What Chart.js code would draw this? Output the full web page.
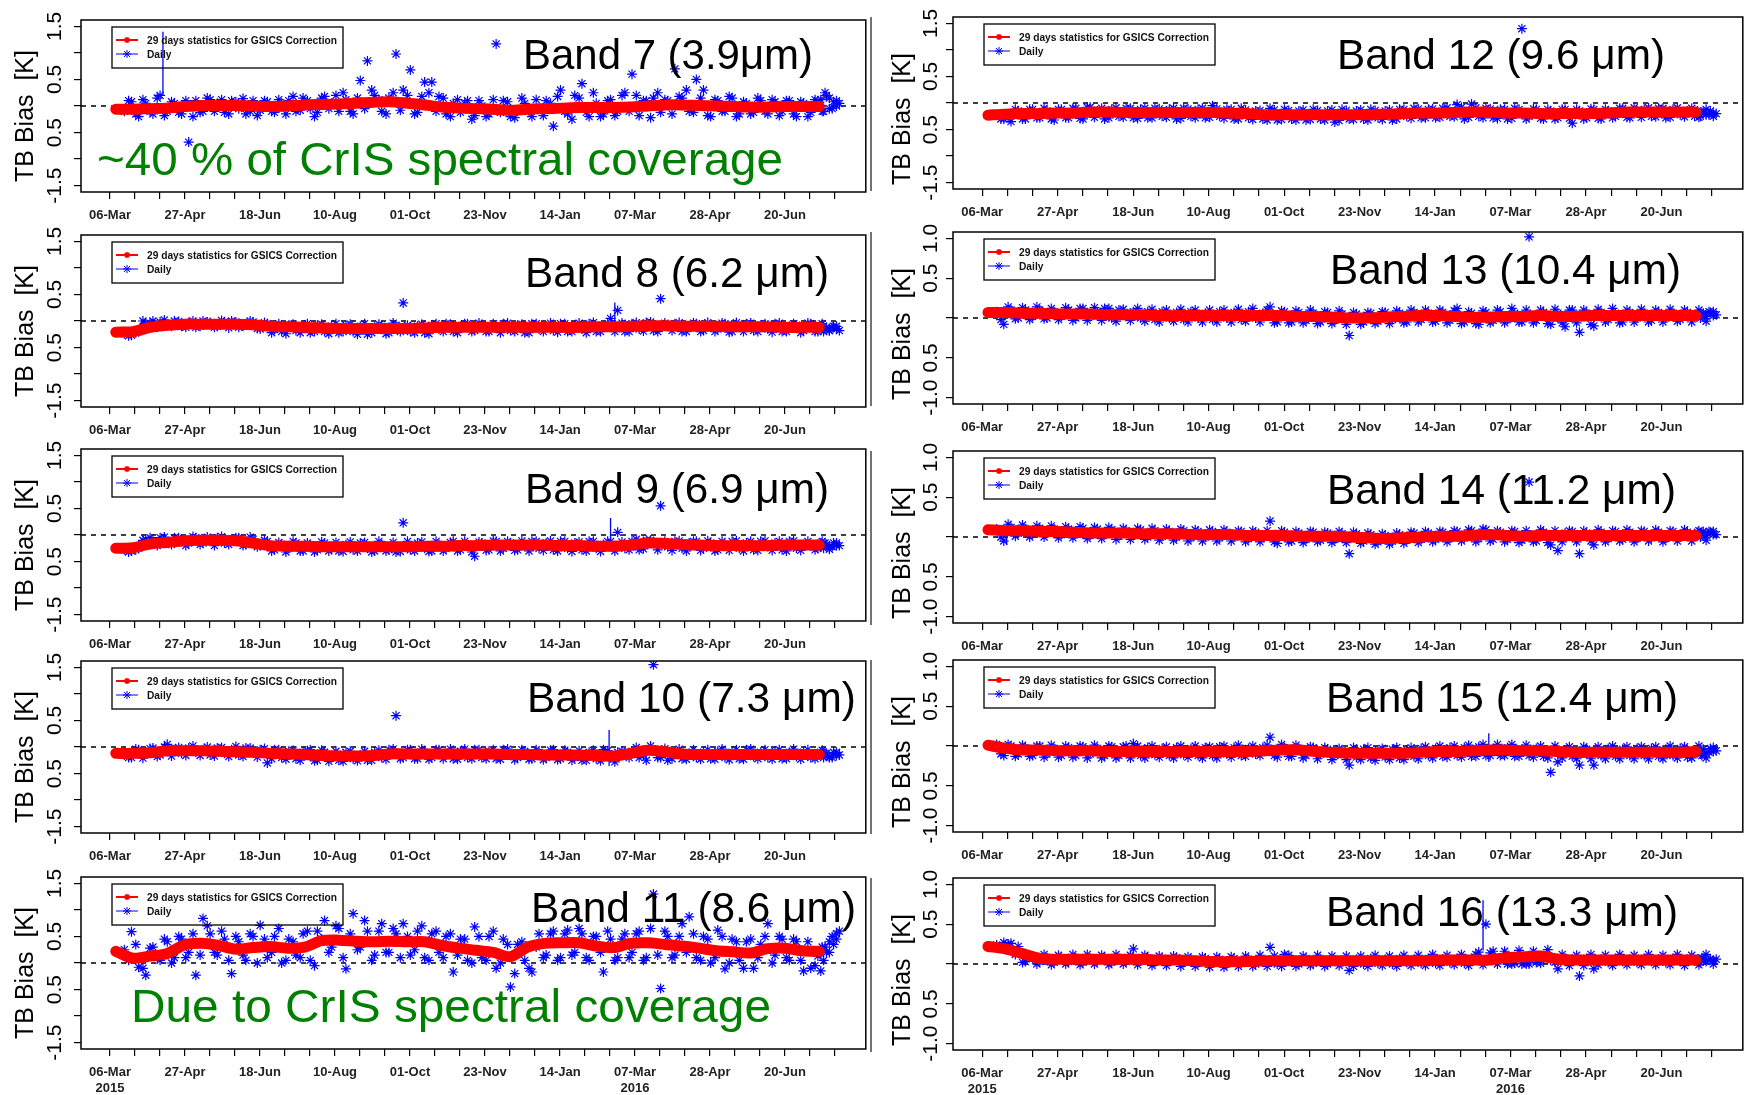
<!DOCTYPE html>
<html>
<head>
<meta charset="utf-8">
<script src="https://cdn.jsdelivr.net/npm/chart.js@4.4.0/dist/chart.umd.min.js"></script>
<style>
  html, body { margin: 0; padding: 0; background: #fff; width: 1752px; height: 1095px; overflow: hidden; position: relative; }
  canvas { position: absolute; }
</style>
</head>
<body>
<script>
// days since 06-Mar-2015
const redDays = [4,16,28,40,52,64,76,88,100,112,124,136,148,160,172,184,196,208,220,232,244,256,268,280,292,304,316,328,340,352,364,376,388,400,412,424,436,448,460,472,484,496];
const blueDays = [10,15,20,25,30,35,40,45,50,55,60,65,70,75,80,85,90,95,100,105,110,115,120,125,130,135,140,145,150,155,
  160,165,170,175,180,185,190,195,200,205,210,215,220,225,230,235,240,245,250,255,260,265,270,275,280,285,290,295,300,305,
  310,315,320,325,330,335,340,345,350,355,360,365,370,375,380,385,390,395,400,405,410,415,420,425,430,435,440,445,450,455,
  460,465,470,475,480,485,490,495,500,505,510];
const midDays = [13,18,23,28,33,38,43,48,53,58,63,68,73,78,83,88,93,98,103,108,113,118,123,128,133,138,143,148,153,158,
  163,168,173,178,183,188,193,198,203,208,213,218,223,228,233,238,243,248,253,258,263,268,273,278,283,288,293,298,303,308,
  313,318,323,328,333,338,343,348,353,358,363,368,373,378,383,388,393,398,403,408,413,418,423,428,433,438,443,448,453,458,
  463,468,473,478,483,488,493,498,503,508];
const tailDays = [497,499,501,503,506,508];

const xTickLabels = ['06-Mar','27-Apr','18-Jun','10-Aug','01-Oct','23-Nov','14-Jan','07-Mar','28-Apr','20-Jun'];
const yearLabels = ['2015','','','','','','','2016','',''];
const yTicksWide = [-1.5,-1,-0.5,0,0.5,1,1.5];
const yLabelsWide = ['-1.5','','0.5','','0.5','','1.5'];
const yTicksNarrow = [-1,-0.5,0,0.5,1];
const yLabelsNarrow = ['-1.0','0.5','','0.5','1.0'];
const legendLabels = ['29 days statistics for GSICS Correction', 'Daily'];

// 29 days statistics (red)
const red7 = [-0.06,-0.06,-0.05,-0.04,-0.01,0.01,0.01,0.01,0.0,-0.01,0.0,0.02,0.03,0.04,0.05,0.07,0.08,0.05,0.02,-0.02,-0.04,-0.05,-0.06,-0.08,-0.06,-0.05,-0.04,-0.03,-0.03,-0.03,-0.02,0.0,0.02,0.02,0.01,0.0,-0.01,-0.02,-0.02,-0.01,-0.01,-0.01];
const red8 = [-0.21,-0.2,-0.12,-0.08,-0.06,-0.06,-0.06,-0.06,-0.07,-0.1,-0.11,-0.12,-0.13,-0.14,-0.14,-0.14,-0.14,-0.14,-0.13,-0.12,-0.12,-0.12,-0.12,-0.12,-0.12,-0.12,-0.12,-0.12,-0.11,-0.11,-0.1,-0.09,-0.09,-0.1,-0.1,-0.1,-0.11,-0.11,-0.11,-0.12,-0.12,-0.12];
const red9 = [-0.25,-0.24,-0.17,-0.14,-0.11,-0.1,-0.1,-0.11,-0.15,-0.2,-0.21,-0.21,-0.22,-0.22,-0.22,-0.22,-0.22,-0.22,-0.21,-0.21,-0.2,-0.2,-0.19,-0.19,-0.19,-0.19,-0.2,-0.2,-0.21,-0.21,-0.19,-0.15,-0.16,-0.18,-0.19,-0.2,-0.2,-0.2,-0.2,-0.19,-0.19,-0.19];
const red10 = [-0.12,-0.12,-0.11,-0.07,-0.07,-0.07,-0.08,-0.09,-0.1,-0.12,-0.13,-0.14,-0.16,-0.17,-0.17,-0.16,-0.13,-0.13,-0.13,-0.13,-0.13,-0.13,-0.13,-0.14,-0.14,-0.15,-0.15,-0.15,-0.16,-0.17,-0.12,-0.06,-0.09,-0.13,-0.14,-0.14,-0.14,-0.14,-0.14,-0.14,-0.14,-0.14];
const red11 = [0.22,0.09,0.13,0.18,0.34,0.37,0.33,0.26,0.29,0.31,0.28,0.3,0.42,0.43,0.41,0.4,0.41,0.4,0.4,0.33,0.28,0.24,0.2,0.12,0.3,0.37,0.38,0.38,0.32,0.29,0.37,0.38,0.35,0.32,0.28,0.23,0.21,0.19,0.27,0.28,0.23,0.22];
const red12 = [-0.23,-0.21,-0.2,-0.2,-0.19,-0.19,-0.17,-0.17,-0.18,-0.18,-0.18,-0.18,-0.18,-0.18,-0.19,-0.2,-0.22,-0.22,-0.22,-0.22,-0.22,-0.22,-0.22,-0.21,-0.2,-0.19,-0.19,-0.18,-0.17,-0.17,-0.19,-0.19,-0.2,-0.2,-0.2,-0.2,-0.19,-0.17,-0.17,-0.17,-0.17,-0.17];
const red13 = [0.07,0.07,0.06,0.06,0.05,0.05,0.05,0.04,0.04,0.04,0.03,0.03,0.03,0.03,0.03,0.03,0.03,0.03,0.02,0.02,0.01,0.0,0.0,0.01,0.02,0.03,0.03,0.02,0.01,0.01,0.02,0.02,0.03,0.02,0.02,0.03,0.03,0.03,0.03,0.03,0.03,0.03];
const red14 = [0.09,0.08,0.08,0.07,0.07,0.06,0.05,0.05,0.05,0.04,0.04,0.04,0.03,0.03,0.03,0.02,0.02,0.02,0.01,0.01,0.01,0.0,-0.01,-0.02,-0.01,0.0,0.01,0.01,0.02,0.03,0.02,0.01,0.02,0.02,0.02,0.02,0.02,0.02,0.02,0.02,0.02,0.02];
const red15 = [0.01,-0.03,-0.05,-0.05,-0.06,-0.06,-0.06,-0.07,-0.07,-0.07,-0.07,-0.07,-0.07,-0.07,-0.07,-0.07,-0.06,-0.05,-0.05,-0.07,-0.08,-0.09,-0.09,-0.09,-0.09,-0.08,-0.07,-0.07,-0.06,-0.05,-0.05,-0.06,-0.06,-0.07,-0.08,-0.08,-0.08,-0.08,-0.08,-0.08,-0.08,-0.07];
const red16 = [0.22,0.19,0.13,0.07,0.06,0.06,0.06,0.06,0.06,0.06,0.05,0.05,0.04,0.03,0.03,0.03,0.04,0.04,0.04,0.04,0.04,0.04,0.04,0.04,0.04,0.04,0.05,0.05,0.05,0.05,0.08,0.09,0.1,0.06,0.05,0.05,0.05,0.05,0.05,0.05,0.05,0.05];

// daily values (blue), on blueDays
const daily7 = [-0.1,0.08,-0.2,0.05,-0.15,0.2,-0.1,0.05,-0.15,-0.68,
  0.1,-0.1,0.12,0.05,-0.12,0.1,-0.05,-0.15,0.1,-0.08,
  0.08,-0.12,0.05,0.1,-0.1,0.15,-0.05,-0.12,0.18,0.05,
  -0.1,0.12,-0.15,0.48,0.85,0.2,-0.1,0.15,0.98,0.3,
  0.68,-0.12,0.45,0.45,0.18,-0.15,0.05,-0.12,0.1,-0.18,
  0.0,-0.15,1.17,0.1,-0.2,-0.1,0.05,-0.2,-0.05,0.1,
  -0.38,0.3,-0.15,0.2,0.42,-0.2,0.05,-0.15,0.12,-0.1,
  0.25,0.6,-0.18,0.1,0.15,-0.12,0.1,0.7,0.15,-0.1,
  0.5,0.3,-0.2,0.1,-0.1,0.15,-0.15,0.05,-0.12,0.1,
  -0.15,0.08,-0.1,0.1,-0.2,0.05,-0.12,0.1,0.25,-0.05,
  0.05];
const daily8 = [-0.24,-0.27,-0.2,-0.05,0.0,-0.02,-0.08,0.0,-0.1,-0.03,
  -0.12,0.0,-0.03,-0.1,-0.02,0.0,-0.12,-0.05,-0.02,-0.15,
  -0.05,-0.16,-0.2,-0.08,-0.18,-0.1,-0.22,-0.08,-0.2,-0.1,
  -0.22,-0.08,-0.2,-0.1,-0.25,-0.12,-0.1,-0.22,-0.08,0.34,
  -0.2,-0.1,-0.22,-0.08,-0.15,-0.05,-0.2,-0.1,-0.05,-0.18,
  -0.07,-0.2,-0.1,-0.05,-0.18,-0.08,-0.22,-0.05,-0.15,-0.1,
  -0.18,-0.05,-0.2,-0.08,-0.15,-0.05,-0.2,-0.1,0.05,0.2,
  -0.2,-0.05,-0.15,-0.03,-0.18,0.42,-0.08,-0.05,-0.2,-0.1,
  -0.05,-0.18,-0.08,-0.15,-0.05,-0.2,-0.1,-0.05,-0.18,-0.08,
  -0.15,-0.05,-0.2,-0.1,-0.08,-0.18,-0.05,-0.2,-0.15,-0.12,
  -0.18];
const daily9 = [-0.28,-0.3,-0.25,-0.08,-0.12,-0.05,-0.15,-0.05,-0.1,-0.15,
  -0.05,-0.15,-0.08,-0.05,-0.15,-0.1,-0.05,-0.18,-0.08,-0.2,
  -0.12,-0.28,-0.18,-0.25,-0.15,-0.3,-0.2,-0.28,-0.15,-0.25,
  -0.3,-0.18,-0.28,-0.15,-0.25,-0.3,-0.18,-0.28,-0.32,0.23,
  -0.28,-0.15,-0.25,-0.3,-0.18,-0.25,-0.12,-0.28,-0.2,-0.4,
  -0.15,-0.28,-0.12,-0.25,-0.15,-0.28,-0.18,-0.12,-0.25,-0.15,
  -0.28,-0.12,-0.25,-0.15,-0.28,-0.12,-0.25,-0.18,-0.12,0.05,
  -0.25,-0.12,-0.28,-0.1,-0.15,0.55,-0.22,-0.12,-0.25,-0.15,
  -0.12,-0.25,-0.15,-0.28,-0.18,-0.12,-0.25,-0.15,-0.28,-0.12,
  -0.22,-0.15,-0.28,-0.12,-0.25,-0.18,-0.2,-0.25,-0.15,-0.22,
  -0.2];
const daily10 = [-0.15,-0.2,-0.05,-0.1,-0.02,-0.15,0.05,-0.05,-0.12,-0.02,
  -0.1,-0.05,-0.15,-0.02,-0.12,-0.05,-0.15,-0.02,-0.08,-0.05,
  -0.3,-0.05,-0.2,-0.08,-0.22,-0.1,-0.05,-0.25,-0.1,-0.2,
  -0.25,-0.1,-0.22,-0.15,-0.25,-0.1,-0.2,-0.05,0.59,-0.2,
  -0.05,-0.22,-0.1,-0.2,-0.05,-0.15,-0.22,-0.08,-0.2,-0.05,
  -0.2,-0.08,-0.22,-0.05,-0.15,-0.2,-0.08,-0.22,-0.1,-0.2,
  -0.05,-0.22,-0.1,-0.2,-0.25,-0.1,-0.22,-0.05,-0.2,-0.1,
  -0.15,-0.08,-0.2,-0.25,1.55,-0.2,-0.25,-0.1,-0.22,-0.12,
  -0.2,-0.1,-0.22,-0.08,-0.2,-0.1,-0.22,-0.05,-0.18,-0.1,
  -0.2,-0.08,-0.22,-0.1,-0.18,-0.1,-0.2,-0.15,-0.12,-0.2,
  -0.15];
const daily11 = [0.25,0.59,-0.08,-0.23,0.3,0.05,0.4,0.1,0.45,0.2,
  -0.23,0.84,0.55,0.15,0.45,-0.2,0.4,0.05,0.5,0.71,
  0.1,0.5,0.0,0.45,0.15,0.55,0.05,0.6,0.8,0.3,
  0.65,-0.11,0.93,0.3,0.6,0.15,0.74,0.2,0.55,0.74,
  0.15,0.6,0.1,0.55,0.2,0.5,-0.17,0.45,0.05,0.68,
  0.1,0.5,-0.1,0.45,-0.45,0.35,0.05,-0.17,0.55,0.15,
  0.6,0.1,0.62,0.2,0.55,0.05,0.5,-0.17,0.45,0.1,
  0.55,0.2,0.6,0.1,1.3,-0.48,0.5,0.15,0.74,0.87,
  0.1,0.5,0.0,0.62,-0.11,0.45,0.05,0.4,-0.1,0.35,
  0.74,0.15,0.45,0.05,0.4,-0.15,-0.1,0.13,0.3,0.5,
  0.6];
const daily12 = [-0.22,-0.3,-0.35,-0.15,-0.3,-0.12,-0.28,-0.15,-0.32,-0.12,
  -0.28,-0.1,-0.3,-0.08,-0.15,-0.3,-0.12,-0.25,-0.1,-0.28,
  -0.12,-0.28,-0.1,-0.25,-0.12,-0.3,-0.1,-0.25,-0.12,-0.28,
  -0.05,-0.25,-0.12,-0.3,-0.1,-0.28,-0.15,-0.3,-0.1,-0.32,
  -0.12,-0.3,-0.15,-0.32,-0.12,-0.3,-0.15,-0.36,-0.12,-0.3,
  -0.15,-0.3,-0.12,-0.28,-0.15,-0.32,-0.12,-0.25,-0.1,-0.28,
  -0.12,-0.28,-0.1,-0.25,-0.03,-0.3,-0.02,-0.25,-0.1,-0.28,
  -0.12,-0.3,-0.1,1.4,-0.25,-0.12,-0.3,-0.15,-0.28,-0.12,
  -0.38,-0.15,-0.28,-0.12,-0.3,-0.15,-0.25,-0.1,-0.28,-0.15,
  -0.12,-0.25,-0.1,-0.28,-0.12,-0.22,-0.15,-0.25,-0.18,-0.22,
  -0.2];
const daily13 = [0.08,-0.08,0.1,0.0,0.1,0.02,0.1,0.0,0.08,0.02,
  0.1,0.0,0.12,0.02,0.08,0.12,0.0,0.1,0.02,0.08,
  0.0,0.08,-0.02,0.08,0.0,0.07,-0.02,0.08,0.0,0.06,
  -0.02,0.08,0.0,0.07,-0.02,0.08,0.0,0.06,0.14,-0.05,
  0.08,-0.05,0.07,-0.03,0.06,-0.05,0.07,-0.03,0.05,-0.22,
  0.05,-0.05,0.06,-0.04,0.07,-0.02,0.06,-0.05,0.07,-0.02,
  0.06,-0.04,0.07,-0.03,0.12,-0.05,0.06,-0.08,0.07,-0.03,
  0.08,-0.02,0.06,-0.05,1.02,-0.03,0.07,-0.08,0.06,-0.11,
  0.1,-0.18,0.06,-0.1,0.07,-0.02,0.06,-0.05,0.07,0.0,
  0.06,-0.03,0.07,0.0,0.06,-0.02,0.07,0.02,0.05,0.08,
  0.04];
const daily14 = [0.1,-0.05,0.12,0.05,0.1,0.04,0.11,0.06,0.1,0.03,
  0.1,0.04,0.11,0.02,0.1,0.03,0.09,0.01,0.08,0.02,
  0.09,0.0,0.08,0.01,0.07,0.0,0.08,-0.01,0.07,0.0,
  0.07,-0.01,0.06,0.0,0.07,-0.02,0.06,0.0,0.2,-0.08,
  0.06,-0.05,0.05,-0.03,0.06,-0.04,0.05,-0.03,0.04,-0.21,
  0.04,-0.05,0.03,-0.06,0.02,-0.05,0.03,-0.04,0.05,-0.03,
  0.05,-0.03,0.06,-0.02,0.07,-0.01,0.08,-0.02,0.09,-0.03,
  0.06,-0.03,0.07,-0.04,0.69,-0.05,0.06,-0.1,-0.17,0.05,
  0.07,-0.21,0.05,-0.1,0.06,-0.02,0.07,-0.03,0.06,-0.02,
  0.07,-0.01,0.06,-0.02,0.07,0.0,0.06,0.01,0.05,0.07,
  0.03];
const daily15 = [0.02,-0.12,0.0,-0.1,-0.02,-0.12,0.0,-0.1,-0.03,-0.12,
  -0.02,-0.12,-0.01,-0.1,-0.03,-0.12,-0.01,-0.12,0.0,0.03,
  -0.12,-0.02,-0.11,-0.03,-0.12,-0.02,-0.11,-0.03,-0.12,-0.02,
  -0.12,-0.01,-0.1,-0.02,-0.12,-0.03,-0.1,-0.02,0.11,-0.14,
  -0.02,-0.13,-0.03,-0.12,-0.02,-0.1,-0.04,-0.12,-0.06,-0.24,
  -0.14,-0.04,-0.15,-0.05,-0.14,-0.04,-0.15,-0.05,-0.13,-0.03,
  -0.12,-0.03,-0.13,-0.02,-0.12,-0.02,-0.13,-0.01,-0.12,-0.03,
  -0.12,-0.02,-0.13,-0.04,-0.12,-0.03,-0.13,-0.33,-0.2,-0.05,
  -0.13,-0.24,-0.04,-0.24,-0.12,-0.03,-0.13,-0.04,-0.12,-0.03,
  -0.12,-0.03,-0.13,-0.04,-0.12,-0.03,-0.14,-0.06,-0.12,-0.08,
  -0.06];
const daily16 = [0.24,0.27,0.26,0.22,0.03,0.07,0.03,0.08,0.02,0.07,
  0.03,0.08,0.02,0.07,0.04,0.08,0.02,0.07,0.03,0.19,
  0.04,0.08,0.02,0.07,0.03,0.08,0.02,0.06,0.01,0.07,
  0.02,0.06,0.0,0.07,0.01,0.06,0.0,0.05,0.21,0.0,
  0.12,0.06,0.0,0.07,0.01,0.06,0.0,0.05,0.02,-0.08,
  0.06,0.0,0.07,0.01,0.06,0.0,0.07,0.02,0.06,0.01,
  0.07,0.01,0.06,0.02,0.07,0.01,0.07,0.15,0.5,0.16,
  0.06,0.0,0.01,0.0,0.0,0.02,0.07,0.05,-0.06,0.07,
  0.06,-0.15,0.07,-0.06,0.06,0.02,0.07,0.03,0.06,0.02,
  0.07,0.03,0.06,0.02,0.07,0.03,0.06,0.04,0.08,0.05,
  0.06];

// more daily values (blue), on midDays
const mid7 = [0.1,-0.15,0.12,-0.1,0.15,-0.18,0.08,-0.12,0.1,-0.2,
  -0.12,0.15,-0.1,0.12,-0.15,0.08,0.14,-0.1,-0.18,0.1,
  -0.1,0.12,-0.15,0.18,-0.08,0.1,-0.2,0.15,-0.05,0.2,
  0.25,-0.1,0.15,-0.05,0.3,0.12,-0.15,0.25,-0.08,0.2,
  -0.15,0.18,0.25,-0.1,0.15,-0.2,0.12,0.05,-0.25,0.1,
  -0.2,0.12,-0.12,0.08,-0.22,0.15,-0.1,0.12,-0.18,0.05,
  0.18,-0.1,-0.25,0.15,-0.12,0.25,-0.2,0.1,-0.18,0.2,
  -0.1,0.2,0.1,-0.22,0.25,0.12,-0.15,0.18,0.3,-0.12,
  0.15,-0.18,0.12,-0.1,0.18,-0.2,0.08,-0.15,0.15,-0.1,
  0.12,-0.18,0.1,-0.15,0.08,-0.2,0.12,-0.1,0.15,0.1];
const mid8 = [-0.28,-0.22,0.0,-0.04,-0.12,0.02,-0.1,-0.01,-0.12,0.0,
  -0.1,-0.02,-0.12,0.01,-0.13,-0.02,-0.1,0.0,-0.14,-0.03,
  -0.22,-0.05,-0.24,-0.06,-0.22,-0.05,-0.2,-0.06,-0.24,-0.05,
  -0.2,-0.06,-0.25,-0.05,-0.22,-0.06,-0.24,-0.04,-0.2,-0.08,
  -0.22,-0.06,-0.24,-0.05,-0.2,-0.06,-0.22,-0.05,-0.2,-0.04,
  -0.2,-0.05,-0.22,-0.04,-0.2,-0.06,-0.22,-0.05,-0.2,-0.04,
  -0.21,-0.05,-0.2,-0.04,-0.22,-0.03,-0.2,-0.05,-0.2,-0.04,
  -0.2,-0.03,-0.19,-0.02,-0.2,-0.04,-0.18,-0.03,-0.2,-0.04,
  -0.2,-0.03,-0.2,-0.04,-0.21,-0.03,-0.2,-0.04,-0.2,-0.05,
  -0.21,-0.04,-0.2,-0.05,-0.22,-0.04,-0.2,-0.05,-0.18,-0.1];
const mid9 = [-0.32,-0.28,-0.1,-0.05,-0.2,-0.04,-0.18,-0.05,-0.2,-0.03,
  -0.18,-0.04,-0.2,-0.03,-0.18,-0.05,-0.2,-0.04,-0.22,-0.1,
  -0.3,-0.14,-0.32,-0.12,-0.3,-0.15,-0.32,-0.13,-0.3,-0.14,
  -0.31,-0.13,-0.3,-0.14,-0.32,-0.12,-0.3,-0.14,-0.31,-0.12,
  -0.3,-0.13,-0.31,-0.12,-0.3,-0.14,-0.3,-0.12,-0.32,-0.13,
  -0.29,-0.11,-0.3,-0.12,-0.29,-0.11,-0.3,-0.12,-0.29,-0.11,
  -0.3,-0.12,-0.31,-0.13,-0.3,-0.12,-0.31,-0.12,-0.3,-0.13,
  -0.28,-0.08,-0.26,-0.1,-0.28,-0.12,-0.29,-0.11,-0.3,-0.12,
  -0.29,-0.11,-0.3,-0.12,-0.29,-0.11,-0.3,-0.12,-0.29,-0.11,
  -0.29,-0.12,-0.3,-0.11,-0.29,-0.12,-0.28,-0.12,-0.27,-0.15];
const mid10 = [-0.2,-0.04,-0.21,-0.03,-0.18,0.0,-0.17,-0.01,-0.16,0.02,
  -0.16,0.0,-0.17,-0.01,-0.18,0.01,-0.18,-0.02,-0.19,-0.03,
  -0.22,-0.05,-0.23,-0.06,-0.25,-0.07,-0.26,-0.06,-0.27,-0.08,
  -0.27,-0.08,-0.26,-0.08,-0.25,-0.06,-0.23,-0.04,-0.22,-0.05,
  -0.22,-0.04,-0.23,-0.05,-0.22,-0.04,-0.23,-0.04,-0.22,-0.05,
  -0.22,-0.05,-0.23,-0.04,-0.24,-0.05,-0.23,-0.05,-0.24,-0.06,
  -0.24,-0.06,-0.25,-0.07,-0.25,-0.06,-0.26,-0.07,-0.28,-0.08,
  -0.2,-0.01,-0.15,0.02,-0.2,-0.03,-0.22,-0.04,-0.23,-0.05,
  -0.23,-0.05,-0.23,-0.04,-0.24,-0.05,-0.23,-0.04,-0.22,-0.05,
  -0.23,-0.05,-0.22,-0.04,-0.23,-0.05,-0.22,-0.06,-0.2,-0.1];
const mid11 = [0.05,0.35,-0.1,0.28,0.1,0.45,0.0,0.5,0.1,0.55,
  0.15,0.7,0.2,0.6,0.05,0.5,0.15,0.55,0.0,0.45,
  0.2,0.65,0.05,0.4,0.1,0.6,-0.05,0.45,0.2,0.7,
  0.1,0.55,0.25,0.8,0.05,0.6,0.2,0.65,0.1,0.5,
  0.25,0.7,0.05,0.6,0.1,0.55,0.15,0.45,0.0,0.5,
  0.05,0.6,0.0,0.35,-0.2,0.4,-0.1,0.3,0.1,0.55,
  0.05,0.55,0.15,0.65,0.1,0.5,0.2,0.6,0.05,0.45,
  0.1,0.55,0.05,0.65,0.15,0.6,0.1,0.5,0.2,0.55,
  0.05,0.45,0.1,0.5,0.0,0.4,-0.1,0.45,0.1,0.5,
  0.0,0.5,0.1,0.45,0.05,0.4,-0.05,0.3,0.2,0.45];
const mid12 = [-0.3,-0.28,-0.12,-0.3,-0.12,-0.28,-0.1,-0.3,-0.12,-0.28,
  -0.1,-0.29,-0.08,-0.27,-0.1,-0.28,-0.09,-0.27,-0.1,-0.29,
  -0.1,-0.28,-0.11,-0.27,-0.1,-0.29,-0.11,-0.28,-0.1,-0.27,
  -0.11,-0.29,-0.12,-0.3,-0.13,-0.31,-0.14,-0.32,-0.13,-0.31,
  -0.14,-0.32,-0.13,-0.31,-0.14,-0.32,-0.13,-0.33,-0.14,-0.31,
  -0.13,-0.32,-0.14,-0.31,-0.13,-0.3,-0.12,-0.29,-0.11,-0.28,
  -0.11,-0.27,-0.09,-0.26,-0.08,-0.27,-0.09,-0.28,-0.11,-0.29,
  -0.12,-0.29,-0.12,-0.3,-0.11,-0.29,-0.12,-0.3,-0.12,-0.29,
  -0.12,-0.3,-0.11,-0.29,-0.12,-0.28,-0.1,-0.27,-0.09,-0.27,
  -0.09,-0.26,-0.1,-0.27,-0.09,-0.26,-0.1,-0.27,-0.12,-0.25];
const mid13 = [-0.02,0.14,-0.01,0.13,-0.02,0.14,-0.01,0.12,-0.02,0.13,
  -0.03,0.12,-0.03,0.13,-0.03,0.12,-0.04,0.11,-0.03,0.12,
  -0.04,0.11,-0.05,0.1,-0.04,0.11,-0.05,0.1,-0.05,0.1,
  -0.05,0.1,-0.05,0.11,-0.04,0.12,-0.05,0.1,-0.06,0.09,
  -0.06,0.09,-0.06,0.1,-0.07,0.08,-0.07,0.09,-0.08,0.07,
  -0.08,0.07,-0.07,0.08,-0.07,0.09,-0.06,0.1,-0.05,0.1,
  -0.05,0.1,-0.06,0.09,-0.07,0.08,-0.07,0.09,-0.06,0.1,
  -0.06,0.12,-0.05,0.1,-0.06,0.1,-0.07,0.11,-0.06,0.1,
  -0.06,0.1,-0.08,0.11,-0.05,0.12,-0.06,0.1,-0.05,0.11,
  -0.05,0.1,-0.05,0.11,-0.04,0.1,-0.05,0.1,-0.04,0.08];
const mid14 = [0.0,0.16,0.01,0.15,0.0,0.14,0.0,0.14,-0.01,0.13,
  -0.01,0.13,-0.02,0.12,-0.02,0.12,-0.03,0.11,-0.03,0.11,
  -0.03,0.11,-0.04,0.1,-0.04,0.1,-0.05,0.09,-0.05,0.09,
  -0.05,0.09,-0.05,0.08,-0.06,0.08,-0.06,0.08,-0.06,0.08,
  -0.06,0.07,-0.07,0.07,-0.06,0.06,-0.07,0.07,-0.07,0.06,
  -0.08,0.05,-0.09,0.04,-0.09,0.05,-0.08,0.06,-0.07,0.07,
  -0.06,0.07,-0.06,0.08,-0.05,0.09,-0.06,0.1,-0.05,0.08,
  -0.06,0.08,-0.07,0.08,-0.06,0.09,-0.07,0.08,-0.06,0.08,
  -0.06,0.08,-0.05,0.09,-0.06,0.08,-0.05,0.09,-0.06,0.08,
  -0.05,0.09,-0.06,0.08,-0.05,0.09,-0.05,0.08,-0.04,0.07];
const mid15 = [-0.1,0.02,-0.13,0.01,-0.13,0.0,-0.14,0.01,-0.14,0.0,
  -0.14,0.0,-0.15,0.01,-0.15,0.0,-0.15,-0.01,-0.15,0.0,
  -0.15,0.0,-0.14,-0.01,-0.15,0.0,-0.14,0.0,-0.15,-0.01,
  -0.15,0.0,-0.14,0.01,-0.13,0.0,-0.12,0.01,-0.12,0.02,
  -0.13,0.01,-0.15,-0.01,-0.16,-0.02,-0.17,-0.03,-0.17,-0.02,
  -0.17,-0.02,-0.18,-0.03,-0.17,-0.02,-0.17,-0.02,-0.16,-0.01,
  -0.15,0.0,-0.14,0.0,-0.14,0.01,-0.13,0.02,-0.12,0.02,
  -0.12,0.02,-0.13,0.01,-0.14,0.0,-0.15,0.0,-0.15,-0.01,
  -0.16,-0.01,-0.16,-0.01,-0.16,0.0,-0.16,-0.01,-0.16,-0.01,
  -0.16,-0.01,-0.16,0.0,-0.15,-0.01,-0.15,0.0,-0.15,-0.02];
const mid16 = [0.2,0.25,0.12,0.02,0.1,0.0,0.12,-0.01,0.11,0.0,
  0.12,-0.01,0.12,0.0,0.11,-0.01,0.12,0.0,0.11,-0.01,
  0.11,-0.02,0.1,-0.02,0.1,-0.03,0.09,-0.03,0.09,-0.04,
  0.09,-0.04,0.09,-0.03,0.1,-0.03,0.11,-0.03,0.1,-0.03,
  0.11,-0.03,0.1,-0.02,0.11,-0.03,0.1,-0.02,0.1,-0.03,
  0.1,-0.03,0.11,-0.02,0.1,-0.03,0.11,-0.02,0.11,-0.02,
  0.12,-0.02,0.11,-0.01,0.12,-0.02,0.12,-0.01,0.14,0.0,
  0.16,0.0,0.17,0.0,0.16,0.01,0.18,0.02,0.12,-0.02,
  0.11,-0.02,0.12,-0.01,0.11,-0.02,0.12,-0.01,0.11,-0.01,
  0.12,-0.01,0.11,-0.01,0.12,-0.02,0.11,-0.01,0.12,0.0];

// dense daily cluster after the last 29-day value
const tail7 = [0.12,-0.1,0.2,-0.05,0.08,0.0];
const tail8 = [-0.1,-0.2,-0.12,-0.18,-0.1,-0.15];
const tail9 = [-0.15,-0.25,-0.18,-0.22,-0.15,-0.2];
const tail10 = [-0.1,-0.2,-0.12,-0.18,-0.1,-0.16];
const tail11 = [-0.15,0.05,0.2,0.4,0.35,0.55];
const tail12 = [-0.15,-0.25,-0.18,-0.22,-0.15,-0.2];
const tail13 = [0.05,0.0,0.06,0.02,0.07,0.03];
const tail14 = [0.06,0.0,0.07,0.02,0.06,0.03];
const tail15 = [-0.05,-0.1,-0.04,-0.09,-0.03,-0.07];
const tail16 = [0.06,0.02,0.07,0.03,0.06,0.04];

// [day, low, high] of the daily vertical jumps
const spike7 = [37, 0.2, 1.4];
const spike8 = [353, -0.02, 0.35];
const spike9 = [350, -0.05, 0.32];
const spike10 = [349, -0.36, 0.32];
const spike14 = [17, 0.05, -0.1];
const spike15 = [352, -0.2, 0.16];
const spike16 = [348, 0.17, 0.8];

// layout
const colCanvasLeft = [0, 866];
const colBoxLeft = [81, 953];
const colBoxW = [788, 793];
const rowBoxTop = [[20, 235, 449, 661, 877], [17, 232, 451, 660, 878]];
const BOX_H = 172;
const PAD_TOP = 17;
const tickStep = 472 / 27; // 20-Jun-2016 is day 472, three ticks per label

const bands = [
  { name: 'Band 7 (3.9μm)', col: 0, row: 0, red: red7, daily: daily7, mid: mid7, tail: tail7, spike: spike7, title: [442, 290, 49],
    note: '~40 % of CrIS spectral coverage', noteAt: [16, 686, 155] },
  { name: 'Band 8 (6.2 μm)', col: 0, row: 1, red: red8, daily: daily8, mid: mid8, tail: tail8, spike: spike8, title: [444, 304, 52] },
  { name: 'Band 9 (6.9 μm)', col: 0, row: 2, red: red9, daily: daily9, mid: mid9, tail: tail9, spike: spike9, title: [444, 304, 54] },
  { name: 'Band 10 (7.3 μm)', col: 0, row: 3, red: red10, daily: daily10, mid: mid10, tail: tail10, spike: spike10, title: [446, 329, 51] },
  { name: 'Band 11 (8.6 μm)', col: 0, row: 4, red: red11, daily: daily11, mid: mid11, tail: tail11, spike: null, title: [450, 325, 45],
    note: 'Due to CrIS spectral coverage', noteAt: [50, 640, 145] },
  { name: 'Band 12 (9.6 μm)', col: 1, row: 0, red: red12, daily: daily12, mid: mid12, tail: tail12, spike: null, title: [384, 328, 52] },
  { name: 'Band 13 (10.4 μm)', col: 1, row: 1, red: red13, daily: daily13, mid: mid13, tail: tail13, spike: null, narrow: true, title: [377, 351, 52] },
  { name: 'Band 14 (11.2 μm)', col: 1, row: 2, red: red14, daily: daily14, mid: mid14, tail: tail14, spike: spike14, narrow: true, title: [374, 349, 53] },
  { name: 'Band 15 (12.4 μm)', col: 1, row: 3, red: red15, daily: daily15, mid: mid15, tail: tail15, spike: spike15, narrow: true, title: [373, 352, 52] },
  { name: 'Band 16 (13.3 μm)', col: 1, row: 4, red: red16, daily: daily16, mid: mid16, tail: tail16, spike: spike16, narrow: true, title: [373, 352, 48] },
];

Chart.defaults.font.family = "'Liberation Sans', Arial, sans-serif";

// texte étiré à une largeur donnée
function fitText(ctx, text, x, y, w, font, color) {
  ctx.save();
  ctx.font = font;
  const m = ctx.measureText(text).width;
  ctx.translate(x, y);
  ctx.scale(w / m, 1);
  ctx.fillStyle = color;
  ctx.textAlign = 'left';
  ctx.textBaseline = 'alphabetic';
  ctx.fillText(text, 0, 0);
  ctx.restore();
}

function star(ctx, x, y, r) {
  const d = r * 0.75;
  ctx.beginPath();
  ctx.moveTo(x - r, y); ctx.lineTo(x + r, y);
  ctx.moveTo(x, y - r); ctx.lineTo(x, y + r);
  ctx.moveTo(x - d, y - d); ctx.lineTo(x + d, y + d);
  ctx.moveTo(x - d, y + d); ctx.lineTo(x + d, y - d);
  ctx.stroke();
}

function decoPlugin(b) {
  return {
    id: 'deco',
    beforeDatasetsDraw(chart) {
      const { ctx, chartArea: ca } = chart;
      const y0 = chart.scales.y.getPixelForValue(0);
      ctx.save();
      ctx.strokeStyle = '#000';
      ctx.lineWidth = 1.5;
      ctx.setLineDash([5, 5]);
      ctx.beginPath();
      ctx.moveTo(ca.left, y0);
      ctx.lineTo(ca.right, y0);
      ctx.stroke();
      ctx.restore();
    },
    afterDraw(chart) {
      const { ctx, chartArea: ca } = chart;
      ctx.save();
      // cadre
      ctx.strokeStyle = '#000';
      ctx.lineWidth = 1.5;
      ctx.strokeRect(ca.left, ca.top, ca.width, ca.height);

      if (b.col === 1) {
        ctx.strokeStyle = '#444';
        ctx.beginPath();
        ctx.moveTo(5, ca.top);
        ctx.lineTo(5, ca.bottom + 2);
        ctx.stroke();
      }

      // titre de l'axe y
      ctx.save();
      ctx.font = "25px 'Liberation Sans', Arial, sans-serif";
      ctx.fillStyle = '#000';
      ctx.textAlign = 'center';
      ctx.textBaseline = 'alphabetic';
      ctx.translate(b.col === 0 ? 33 : 44, ca.top + (b.col === 0 ? 96 : 102));
      ctx.rotate(-Math.PI / 2);
      ctx.fillText('TB Bias  [K]', 0, 0);
      ctx.restore();

      // légende
      const lx = ca.left + 31, ly = ca.top + 7;
      ctx.lineWidth = 1.3;
      ctx.strokeStyle = '#000';
      ctx.strokeRect(lx, ly, 231, 41);
      ctx.strokeStyle = '#ff0000';
      ctx.lineWidth = 2;
      ctx.beginPath(); ctx.moveTo(lx + 4, ly + 13); ctx.lineTo(lx + 26, ly + 13); ctx.stroke();
      ctx.lineWidth = 1.5;
      star(ctx, lx + 15, ly + 13, 3);
      ctx.strokeStyle = '#0000ff';
      ctx.lineWidth = 1;
      ctx.beginPath(); ctx.moveTo(lx + 4, ly + 27); ctx.lineTo(lx + 26, ly + 27); ctx.stroke();
      star(ctx, lx + 15, ly + 27, 4);
      ctx.font = "bold 10px 'Liberation Sans', Arial, sans-serif";
      const f = 190 / ctx.measureText(legendLabels[0]).width;
      fitText(ctx, legendLabels[0], lx + 35, ly + 17, 190, ctx.font, '#111');
      ctx.font = "bold 10px 'Liberation Sans', Arial, sans-serif";
      fitText(ctx, legendLabels[1], lx + 35, ly + 31, ctx.measureText(legendLabels[1]).width * f, ctx.font, '#111');

      // nom de la bande
      fitText(ctx, b.name, ca.left + b.title[0], ca.top + b.title[2], b.title[1],
        "42px 'Liberation Sans', Arial, sans-serif", '#000');
      if (b.note) {
        fitText(ctx, b.note, ca.left + b.noteAt[0], ca.top + b.noteAt[2], b.noteAt[1],
          "47px 'Liberation Sans', Arial, sans-serif", '#008000');
      }
      ctx.restore();
    }
  };
}

function buildPanel(b) {
  const cl = colCanvasLeft[b.col];
  const boxLeft = colBoxLeft[b.col];
  const boxTop = rowBoxTop[b.col][b.row];
  const yW = boxLeft - cl;
  const xH = b.row === 4 ? 62 : 40;
  const canvas = document.createElement('canvas');
  canvas.width = yW + colBoxW[b.col] + 3;
  canvas.height = PAD_TOP + BOX_H + xH;
  canvas.style.left = cl + 'px';
  canvas.style.top = (boxTop - PAD_TOP) + 'px';
  document.body.appendChild(canvas);

  const yTicks = b.narrow ? yTicksNarrow : yTicksWide;
  const yLabels = b.narrow ? yLabelsNarrow : yLabelsWide;
  const yLim = b.narrow ? 1.08 : 1.62;

  const spikeData = b.spike ? [{ x: b.spike[0], y: b.spike[1] }, { x: b.spike[0], y: b.spike[2] }] : [];
  const dailyData = blueDays.map((d, i) => ({ x: d, y: b.daily[i] }))
    .concat(midDays.map((d, i) => ({ x: d, y: b.mid[i] })))
    .concat(tailDays.map((d, i) => ({ x: d, y: b.tail[i] })));

  new Chart(canvas.getContext('2d'), {
    type: 'scatter',
    data: {
      datasets: [
        {
          label: legendLabels[0],
          data: redDays.map((d, i) => ({ x: d, y: b.red[i] })),
          showLine: true,
          borderColor: '#ff0000',
          borderWidth: 11,
          borderCapStyle: 'round',
          borderJoinStyle: 'round',
          tension: 0.3,
          pointRadius: 0,
        },
        {
          label: 'spike',
          data: spikeData,
          showLine: true,
          borderColor: '#0000ff',
          borderWidth: 1.3,
          pointRadius: 0,
        },
        {
          label: legendLabels[1],
          data: dailyData,
          showLine: false,
          pointStyle: 'star',
          pointRadius: 5,
          borderColor: '#0000ff',
          backgroundColor: '#0000ff',
          pointBorderWidth: 1.2,
        },
      ],
    },
    options: {
      responsive: false,
      animation: false,
      devicePixelRatio: 1,
      events: [],
      layout: { padding: { top: PAD_TOP, right: 3, left: 0, bottom: 0 } },
      plugins: { legend: { display: false }, tooltip: { enabled: false } },
      scales: {
        x: {
          type: 'linear',
          min: -20.3,
          max: 528.5,
          afterBuildTicks: (s) => { s.ticks = Array.from({ length: 30 }, (_, k) => ({ value: k * tickStep })); },
          afterFit: (s) => { s.height = xH; },
          border: { display: false },
          grid: { drawOnChartArea: false, color: '#000', lineWidth: 1.2, tickLength: 7 },
          ticks: {
            autoSkip: false,
            maxRotation: 0,
            padding: 9,
            color: '#222',
            font: { size: 13, weight: 'bold' },
            callback: (v, i) => {
              if (i % 3 !== 0) return '';
              const lab = xTickLabels[i / 3];
              const yr = yearLabels[i / 3];
              return (b.row === 4 && yr) ? [lab, yr] : lab;
            },
          },
        },
        y: {
          min: -yLim,
          max: yLim,
          afterBuildTicks: (s) => { s.ticks = yTicks.map((v) => ({ value: v })); },
          afterFit: (s) => { s.width = yW; },
          border: { display: false },
          grid: { drawOnChartArea: false, color: '#000', lineWidth: 1.2, tickLength: 7 },
          ticks: {
            autoSkip: false,
            minRotation: 90,
            maxRotation: 90,
            crossAlign: 'center',
            padding: b.col === 0 ? 1 : -3,
            color: '#000',
            font: { size: 21 },
            callback: (v, i) => yLabels[i],
          },
        },
      },
    },
    plugins: [decoPlugin(b)],
  });
}

bands.forEach(buildPanel);
</script>
</body>
</html>
